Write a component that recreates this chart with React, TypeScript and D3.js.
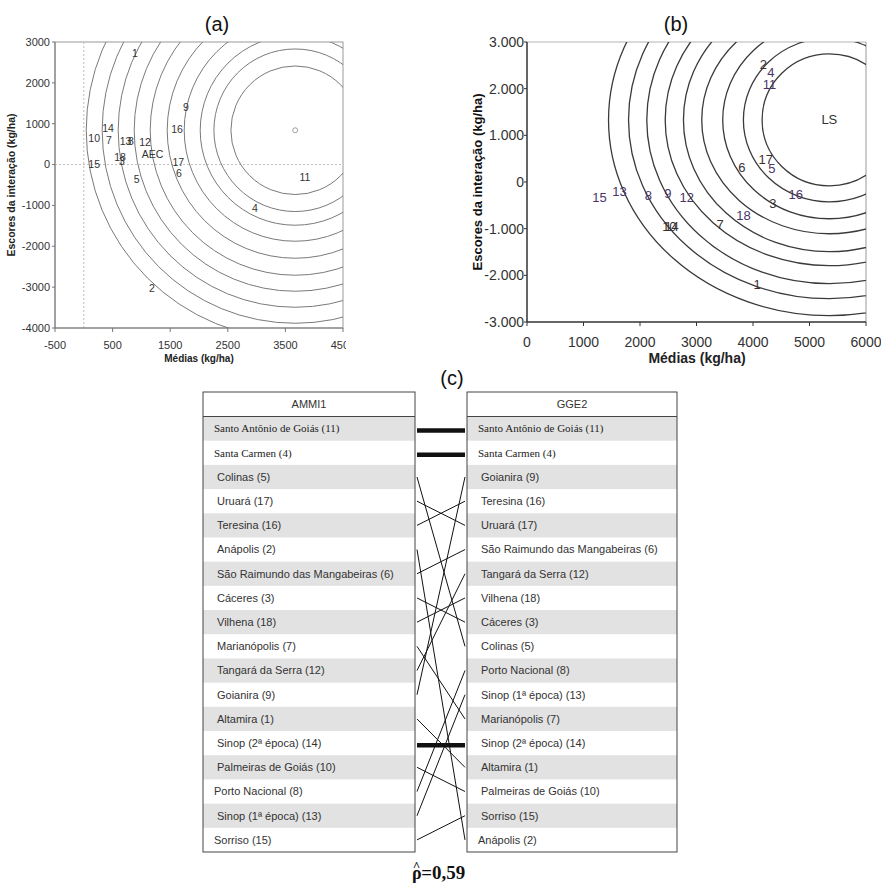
import React from "react";
import * as d3 from "d3";

// ---------- Panel (a): AMMI-like plot ----------
const aLabels = ["1", "9", "14", "16", "10", "7", "13", "8", "12", "AEC", "18", "3", "15", "17", "6", "5", "11", "4", "2"];
const aX = [889, 1774, 420, 1618, 180, 438, 725, 819, 1063, 1194, 630, 660, 180, 1640, 1653, 916, 3840, 2972, 1184];
const aY = [2731, 1410, 896, 871, 651, 602, 577, 577, 553, 250, 186, 88, 15, 64, -205, -354, -303, -1062, -3020];
const aCenter = [3670, 840];
const aRings = [1116, 1411, 1649, 1927, 2222, 2517, 2795, 3073, 3351, 3628];
const aXTicks = [-500, 500, 1500, 2500, 3500, 4500];
const aYTicks = [3000, 2000, 1000, 0, -1000, -2000, -3000, -4000];

// ---------- Panel (b): GGE-like plot ----------
const bLabels = ["2", "4", "11", "17", "5", "6", "16", "3", "18", "7", "15", "13", "8", "9", "12", "10", "14", "1", "LS"];
const bX = [4184, 4315, 4290, 4226, 4333, 3802, 4757, 4350, 3830, 3418, 1284, 1638, 2150, 2493, 2829, 2520, 2560, 4073, 5351];
const bY = [2509, 2353, 2080, 490, 297, 319, -259, -467, -723, -916, -323, -203, -289, -238, -323, -952, -952, -2200, 1331];
const bCenter = [5351, 1331];
const bRingsX = [1190, 1521, 1887, 2258, 2582, 2905, 3231, 3554, 3908];
const bRingsY = [1413, 1755, 2119, 2440, 2825, 3125, 3510, 3831, 4195];
const bXTicks = [0, 1000, 2000, 3000, 4000, 5000, 6000];
const bYTicks = [3000, 2000, 1000, 0, -1000, -2000, -3000];
const bYTickLabels = ["3.000", "2.000", "1.000", "0", "-1.000", "-2.000", "-3.000"];

// ---------- Panel (c): rankings ----------
const ammiOrder = [
  "Santo Antônio de Goiás (11)", "Santa Carmen (4)", "Colinas (5)", "Uruará (17)", "Teresina (16)",
  "Anápolis (2)", "São Raimundo das Mangabeiras (6)", "Cáceres (3)", "Vilhena (18)", "Marianópolis (7)",
  "Tangará da Serra (12)", "Goianira (9)", "Altamira (1)", "Sinop (2ª época) (14)", "Palmeiras de Goiás (10)",
  "Porto Nacional (8)", "Sinop (1ª época) (13)", "Sorriso (15)",
];
const ggeOrder = [
  "Santo Antônio de Goiás (11)", "Santa Carmen (4)", "Goianira (9)", "Teresina (16)", "Uruará (17)",
  "São Raimundo das Mangabeiras (6)", "Tangará da Serra (12)", "Vilhena (18)", "Cáceres (3)", "Colinas (5)",
  "Porto Nacional (8)", "Sinop (1ª época) (13)", "Marianópolis (7)", "Sinop (2ª época) (14)", "Altamira (1)",
  "Palmeiras de Goiás (10)", "Sorriso (15)", "Anápolis (2)",
];
const serifRows = ["Santo Antônio de Goiás (11)", "Santa Carmen (4)"];
const flushLeftRows = ["Porto Nacional (8)", "Sorriso (15)"];
const flushRightRows = ["Anápolis (2)"];
const rhoSymbol = "ρ";
const rhoValue = "=0,59";

const SANS = "Arial, 'Liberation Sans', sans-serif";
const SERIF = "'Times New Roman', 'Liberation Serif', serif";

function PanelA() {
  const x = d3.scaleLinear().domain([-500, 4500]).range([55, 343]);
  const y = d3.scaleLinear().domain([-4000, 3000]).range([328, 42]);
  const cx = x(aCenter[0]);
  const cy = y(aCenter[1]);
  return (
    <g>
      <defs>
        <clipPath id="clipA">
          <rect x={x(-500)} y={y(3000)} width={x(4500) - x(-500)} height={y(-4000) - y(3000)} />
        </clipPath>
        <clipPath id="clipAOuter">
          <rect x={0} y={0} width={346} height={372} />
        </clipPath>
      </defs>
      <g clipPath="url(#clipAOuter)">
        <text x={217} y={31} fontFamily={SANS} fontSize={20} textAnchor="middle" fill="#111">(a)</text>
        <rect x={x(-500)} y={y(3000)} width={x(4500) - x(-500)} height={y(-4000) - y(3000)} fill="none" stroke="#9a9a9a" strokeWidth={1} />
        <line x1={x(0)} x2={x(0)} y1={y(3000)} y2={y(-4000)} stroke="#bdbdbd" strokeDasharray="2,2" />
        <line x1={x(-500)} x2={x(4500)} y1={y(0)} y2={y(0)} stroke="#bdbdbd" strokeDasharray="2,2" />
        <g clipPath="url(#clipA)">
          {aRings.map((r, i) => (
            <circle key={i} cx={cx} cy={cy} r={x(aCenter[0] + r) - cx} fill="none" stroke="#7a7a7a" strokeWidth={1} />
          ))}
        </g>
        <circle cx={cx} cy={cy} r={2.5} fill="#fff" stroke="#888" strokeWidth={0.8} />
        {aLabels.map((l, i) => (
          <text key={i} x={x(aX[i])} y={y(aY[i])} dy="0.35em" textAnchor="middle" fontFamily={SANS} fontSize={10.5} fill="#333">{l}</text>
        ))}
        <line x1={x(-500)} x2={x(-500)} y1={y(3000)} y2={y(-4000)} stroke="#777" />
        <line x1={x(-500)} x2={x(4500)} y1={y(-4000)} y2={y(-4000)} stroke="#777" />
        {aYTicks.map((t) => (
          <g key={t}>
            <line x1={x(-500) - 3} x2={x(-500)} y1={y(t)} y2={y(t)} stroke="#777" />
            <text x={x(-500) - 5} y={y(t)} dy="0.35em" textAnchor="end" fontFamily={SANS} fontSize={11} fill="#333">{t}</text>
          </g>
        ))}
        {aXTicks.map((t) => (
          <g key={t}>
            <line x1={x(t)} x2={x(t)} y1={y(-4000)} y2={y(-4000) + 4} stroke="#777" />
            <text x={x(t)} y={y(-4000) + 17} dy="0.35em" textAnchor="middle" fontFamily={SANS} fontSize={11} fill="#333">{t}</text>
          </g>
        ))}
        <text x={(x(-500) + x(4500)) / 2} y={362} textAnchor="middle" fontFamily={SANS} fontSize={10} fontWeight="bold" fill="#222">Médias (kg/ha)</text>
        <text transform={`translate(15,${(y(3000) + y(-4000)) / 2}) rotate(-90)`} textAnchor="middle" fontFamily={SANS} fontSize={10.5} fontWeight="bold" fill="#222">Escores da interação (kg/ha)</text>
      </g>
    </g>
  );
}

function PanelB() {
  const x = d3.scaleLinear().domain([0, 6000]).range([527, 866]);
  const y = d3.scaleLinear().domain([-3000, 3000]).range([322, 42]);
  const cx = x(bCenter[0]);
  const cy = y(bCenter[1]);
  const purple = ["4", "11", "5", "13", "8", "9", "12", "15", "16", "18"];
  return (
    <g>
      <defs>
        <clipPath id="clipB">
          <rect x={x(0)} y={y(3000)} width={x(6000) - x(0)} height={y(-3000) - y(3000)} />
        </clipPath>
      </defs>
      <text x={676} y={31} fontFamily={SANS} fontSize={20} textAnchor="middle" fill="#111">(b)</text>
      <line x1={x(0)} x2={x(6000)} y1={y(3000)} y2={y(3000)} stroke="#b5b5b5" />
      <line x1={x(6000)} x2={x(6000)} y1={y(3000)} y2={y(-3000)} stroke="#999" />
      <g clipPath="url(#clipB)">
        {bRingsX.map((r, i) => (
          <ellipse key={i} cx={cx} cy={cy} rx={x(bCenter[0] + r) - cx} ry={cy - y(bCenter[1] + bRingsY[i])} fill="none" stroke="#3a3a3a" strokeWidth={1.3} />
        ))}
      </g>
      {bLabels.map((l, i) => (
        <text key={i} x={x(bX[i])} y={y(bY[i])} dy="0.35em" textAnchor="middle" fontFamily={SANS} fontSize={13} fill={l === "LS" ? "#333" : purple.includes(l) ? "#4a3566" : "#3a3030"}>{l}</text>
      ))}
      <line x1={x(0)} x2={x(0)} y1={y(3000)} y2={y(-3000)} stroke="#333" strokeWidth={1.5} />
      <line x1={x(0)} x2={x(6000)} y1={y(-3000)} y2={y(-3000)} stroke="#333" strokeWidth={1.5} />
      {bYTicks.map((t, i) => (
        <g key={t}>
          <line x1={x(0) - 3} x2={x(0)} y1={y(t)} y2={y(t)} stroke="#333" />
          <text x={x(0) - 3} y={y(t)} dy="0.35em" textAnchor="end" fontFamily={SANS} fontSize={14} fill="#333">{bYTickLabels[i]}</text>
        </g>
      ))}
      {bXTicks.map((t) => (
        <g key={t}>
          <line x1={x(t)} x2={x(t)} y1={y(-3000)} y2={y(-3000) + 4} stroke="#333" />
          <text x={x(t)} y={y(-3000) + 20} dy="0.35em" textAnchor="middle" fontFamily={SANS} fontSize={14} fill="#333">{t}</text>
        </g>
      ))}
      <text x={697} y={363} textAnchor="middle" fontFamily={SANS} fontSize={14} fontWeight="bold" fill="#222">Médias (kg/ha)</text>
      <text transform={`translate(482,${(y(3000) + y(-3000)) / 2}) rotate(-90)`} textAnchor="middle" fontFamily={SANS} fontSize={13} fontWeight="bold" fill="#111">Escores da interação (kg/ha)</text>
    </g>
  );
}

function RankTable({ left, right, title, rows, flush }: { left: number; right: number; title: string; rows: string[]; flush: string[] }) {
  const top = 392;
  const headBottom = 416.5;
  const bottom = 852;
  const band = d3.scaleBand<number>().domain(d3.range(rows.length)).range([headBottom, bottom]);
  return (
    <g>
      {rows.map((r, i) => (
        <g key={r}>
          {i % 2 === 0 && <rect x={left} y={band(i)!} width={right - left} height={band.bandwidth()} fill="#e2e2e2" />}
          <text
            x={left + (serifRows.includes(r) || flush.includes(r) ? 11 : 14)}
            y={band(i)! + band.bandwidth() / 2}
            dy="0.35em"
            fontFamily={serifRows.includes(r) ? SERIF : SANS}
            fontSize={11}
            fill={serifRows.includes(r) ? "#222" : "#333"}
          >{r}</text>
        </g>
      ))}
      <rect x={left} y={top} width={right - left} height={bottom - top} fill="none" stroke="#444" strokeWidth={1} />
      <line x1={left} x2={right} y1={headBottom} y2={headBottom} stroke="#444" />
      <text x={(left + right) / 2} y={(top + headBottom) / 2} dy="0.35em" textAnchor="middle" fontFamily={SANS} fontSize={11} fill="#333">{title}</text>
    </g>
  );
}

function PanelC() {
  const band = d3.scaleBand<number>().domain(d3.range(ammiOrder.length)).range([416.5, 852]);
  const yc = (i: number) => band(i)! + band.bandwidth() / 2;
  return (
    <g>
      <text x={452} y={385} textAnchor="middle" fontFamily={SANS} fontSize={20} fill="#111">(c)</text>
      <RankTable left={203} right={415} title="AMMI1" rows={ammiOrder} flush={flushLeftRows} />
      <RankTable left={467} right={677} title="GGE2" rows={ggeOrder} flush={flushRightRows} />
      {ammiOrder.map((name, i) => {
        const j = ggeOrder.indexOf(name);
        const same = i === j;
        return (
          <line key={name} x1={417} x2={465} y1={yc(i) + (same ? 2 : 0)} y2={yc(j) + (same ? 2 : 0)} stroke="#111" strokeWidth={same ? 4.5 : 1} />
        );
      })}
      <text x={412} y={879} fontFamily={SERIF} fontSize={18} fontWeight="bold" fill="#111">
        <tspan>{rhoSymbol}</tspan>
        <tspan dx={-9} dy={-9} fontSize={13}>^</tspan>
        <tspan dx={1} dy={9} textLength={44} lengthAdjust="spacingAndGlyphs">{rhoValue}</tspan>
      </text>
    </g>
  );
}

export default function App() {
  return (
    <svg width={881} height={883} style={{ position: "absolute", left: 0, top: 0, background: "#fff" }}>
      <rect x={0} y={0} width={881} height={883} fill="#fff" />
      <PanelA />
      <PanelB />
      <PanelC />
    </svg>
  );
}
